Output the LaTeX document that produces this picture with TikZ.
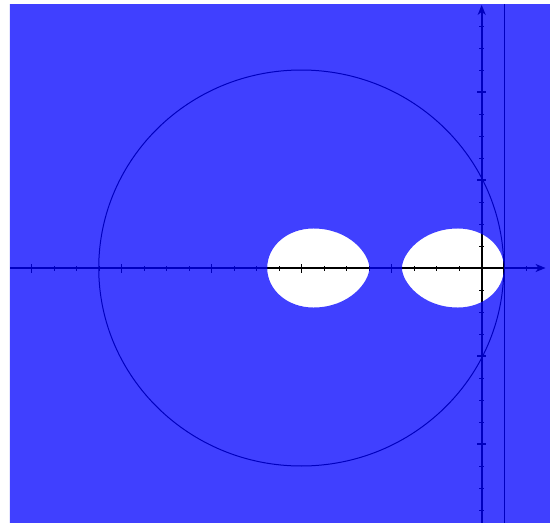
\documentclass[tikz,border=0pt]{standalone}
\usetikzlibrary{arrows.meta}
\begin{document}
\begin{tikzpicture}[x=90pt,y=88pt,
  axisline/.style={line width=1.7pt,-{Stealth[length=10pt,width=8pt,inset=3pt]}},
  minortick/.style={line width=1pt},
  majortick/.style={line width=1.3pt},
  thinline/.style={line width=1pt},
  overlay/.style={fill=blue,fill opacity=0.75,even odd rule}]
\useasboundingbox (-481.7pt,-255pt) rectangle (68.3pt,268pt);
% axes
\coordinate (xs) at (-5.241,0);
\coordinate (xe) at (0.71,0);
\coordinate (ys) at (0,-2.9);
\coordinate (ye) at (0,2.99);
\draw[axisline] (xs) -- (xe);
\draw[axisline] (ys) -- (ye);
% ticks on x axis
\foreach \k in {-20,...,-1,1,2} {
  \pgfmathsetmacro\u{\k/4}
  \draw[minortick] (\u,0) ++(0pt,-2.5pt) -- ++(0pt,5pt);
}
\foreach \u in {-5,...,-1} {
  \draw[majortick] (\u,0) ++(0pt,-4.5pt) -- ++(0pt,9pt);
}
% ticks on y axis
\foreach \k in {-11,...,-1,1,2,...,11} {
  \pgfmathsetmacro\v{\k/4}
  \draw[minortick] (0,\v) ++(-2.5pt,0pt) -- ++(5pt,0pt);
}
\foreach \v in {-2,-1,1,2} {
  \draw[majortick] (0,\v) ++(-4.5pt,0pt) -- ++(9pt,0pt);
}
% circle and vertical line
\draw[thinline] (-2.005,0) ellipse [x radius=2.25, y radius=2.25];
\coordinate (vb) at (0.25,-2.9);
\coordinate (vt) at (0.25,3);
\draw[thinline] (vb) -- (vt);
% egg-shaped loops: outer (O), peak (P), inner (I)
\coordinate (O1) at (-2.383,0);
\coordinate (P1t) at (-1.871,0.449);
\coordinate (P1b) at (-1.871,-0.449);
\coordinate (I1) at (-1.248,0);
\coordinate (I2) at (-0.886,0);
\coordinate (P2t) at (-0.263,0.449);
\coordinate (P2b) at (-0.263,-0.449);
\coordinate (O2) at (0.248,0);
% blue overlay with the two white loops
\fill[overlay] (-471.7pt,-255pt) rectangle (68.3pt,264pt)
  (O1) .. controls (-2.383,0.251) and (-2.157,0.449) .. (P1t)
       .. controls (-1.466,0.449) and (-1.248,0.157) .. (I1)
       .. controls (-1.248,-0.157) and (-1.466,-0.449) .. (P1b)
       .. controls (-2.157,-0.449) and (-2.383,-0.251) .. (O1) -- cycle
  (I2) .. controls (-0.886,0.157) and (-0.668,0.449) .. (P2t)
       .. controls (0.023,0.449) and (0.248,0.251) .. (O2)
       .. controls (0.248,-0.251) and (0.023,-0.449) .. (P2b)
       .. controls (-0.668,-0.449) and (-0.886,-0.157) .. (I2) -- cycle;
\end{tikzpicture}
\end{document}
